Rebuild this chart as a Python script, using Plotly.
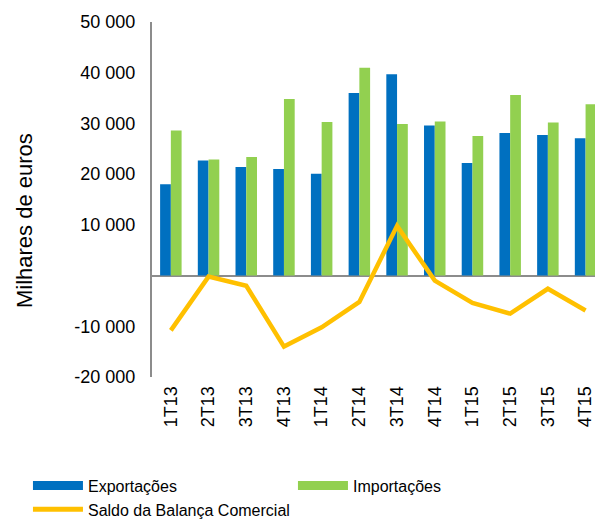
import plotly.graph_objects as go

categories = ["1T13", "2T13", "3T13", "4T13", "1T14", "2T14", "3T14", "4T14",
              "1T15", "2T15", "3T15", "4T15"]
exportacoes = [18000, 22700, 21400, 21000, 20100, 36000, 39700, 29600,
               22200, 28100, 27700, 27100]
importacoes = [28600, 22900, 23400, 34800, 30300, 41000, 29900, 30400,
               27500, 35600, 30200, 33800]
saldo = [-10800, -200, -2000, -14000, -10200, -5200, 9800, -1000,
         -5400, -7500, -2600, -6900]

ytick_vals = [-20000, -10000, 0, 10000, 20000, 30000, 40000, 50000]
ytick_text = ["-20 000", "-10 000", "", "10 000", "20 000", "30 000", "40 000", "50 000"]
y_title = "Milhares de euros"

BLUE = "#0070C0"
GREEN = "#92D050"
GOLD = "#FFC000"
FONT = "Liberation Sans, Arial, sans-serif"

fig = go.Figure()
fig.add_trace(go.Bar(x=categories, y=exportacoes, name="Exportações",
                     marker=dict(color=BLUE, line=dict(width=0)),
                     legendgroup="exp", showlegend=False))
fig.add_trace(go.Bar(x=categories, y=importacoes, name="Importações",
                     marker=dict(color=GREEN, line=dict(width=0)),
                     legendgroup="imp", showlegend=False))
fig.add_trace(go.Scatter(x=categories, y=saldo, name="Saldo da Balança Comercial",
                         mode="lines", line=dict(color=GOLD, width=4.5),
                         legendgroup="sal", showlegend=False))
# legend entries (wide flat swatches like the original)
fig.add_trace(go.Scatter(x=[None], y=[None], mode="lines", name="Exportações",
                         line=dict(color=BLUE, width=9), legendgroup="exp"))
fig.add_trace(go.Scatter(x=[None], y=[None], mode="lines", name="Importações",
                         line=dict(color=GREEN, width=9), legendgroup="imp"))
fig.add_trace(go.Scatter(x=[None], y=[None], mode="lines", name="Saldo da Balança Comercial",
                         line=dict(color=GOLD, width=5), legendgroup="sal"))

fig.update_layout(
    width=595, height=521,
    margin=dict(l=152, r=0, t=22, b=144, autoexpand=False),
    paper_bgcolor="white", plot_bgcolor="white",
    font=dict(family=FONT, size=18, color="#000000"),
    barmode="group", bargap=0.43, bargroupgap=0,
    showlegend=True,
    legend=dict(orientation="h",
                x=-0.28, y=-0.258, xanchor="left", yanchor="top",
                entrywidth=200, entrywidthmode="pixels", itemwidth=50,
                font=dict(size=16, family=FONT), tracegroupgap=0,
                bgcolor="rgba(0,0,0,0)"),
    annotations=[dict(text=y_title, textangle=-90, xref="paper", yref="paper",
                      x=-0.289, y=0.442, xanchor="center", yanchor="middle",
                      showarrow=False, font=dict(size=22, family=FONT))],
)
fig.update_xaxes(
    type="category", range=[-0.5, 11.25], showgrid=False, showline=False,
    zeroline=False, tickangle=-90, ticks="outside", ticklen=1,
    tickcolor="rgba(0,0,0,0)", tickfont=dict(size=18), fixedrange=True,
    automargin=False,
)
fig.update_yaxes(
    range=[-20000, 50000], tickvals=ytick_vals, ticktext=ytick_text,
    showgrid=False, showline=True, linecolor="#8c8c8c", linewidth=2,
    zeroline=True, zerolinecolor="#8c8c8c", zerolinewidth=2,
    ticks="outside", ticklen=11, tickcolor="rgba(0,0,0,0)",
    tickfont=dict(size=18),
    fixedrange=True, automargin=False,
)

fig.write_html("out.html", config={"displayModeBar": False},
               post_script="document.body.style.margin='0';")
